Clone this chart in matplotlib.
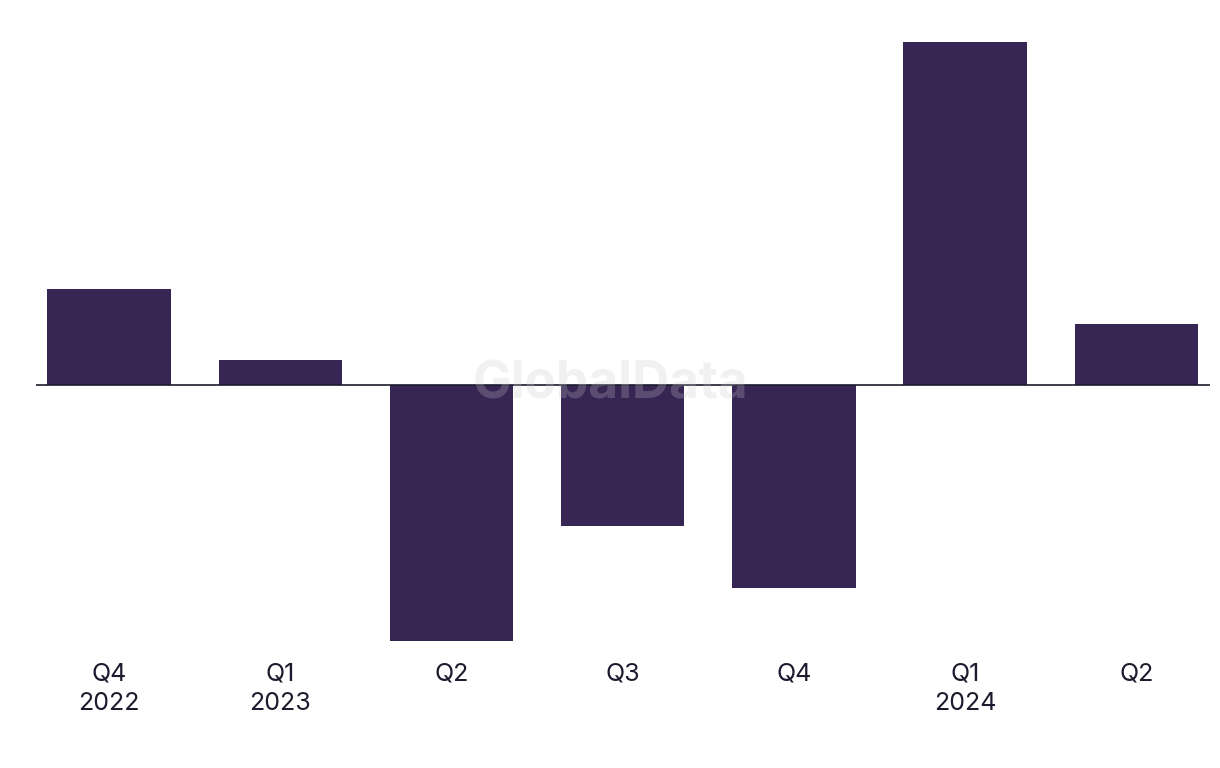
import matplotlib.pyplot as plt

quarters = ["Q4\n2022", "Q1\n2023", "Q2", "Q3", "Q4", "Q1\n2024", "Q2"]
values = [9.6, 2.5, -25.6, -14.1, -20.3, 34.3, 6.1]

bar_color = "#372554"
text_color = "#1c1b2e"

plt.rcParams["font.family"] = ["Inter", "DejaVu Sans"]

fig = plt.figure(figsize=(12.2, 7.68), dpi=100)
# axes placed so the zero line and bars land where they do in the original
ax = fig.add_axes([36 / 1220, 1 - 650 / 768, (1210 - 36) / 1220, (650 - 30) / 768])

x = range(len(quarters))
ax.bar(x, values, width=0.72, color=bar_color, zorder=2)
ax.axhline(0, color=text_color, linewidth=1.2, zorder=3)

ax.set_xlim(-0.426, 6.43)
ax.set_ylim(-26.5, 35.5)

ax.set_xticks(list(x))
ax.set_xticklabels(quarters, fontsize=18, color=text_color, linespacing=1.35)
ax.tick_params(axis="x", length=0, pad=9)
ax.set_yticks([])
for s in ax.spines.values():
    s.set_visible(False)

# faint watermark
fig.text(0.5, 1 - 385 / 768, "GlobalData", ha="center", va="center",
         fontsize=37, fontweight="bold", color="#c8c8cc", alpha=0.25, zorder=10)

fig.savefig("out.png", dpi=100, facecolor="white")
